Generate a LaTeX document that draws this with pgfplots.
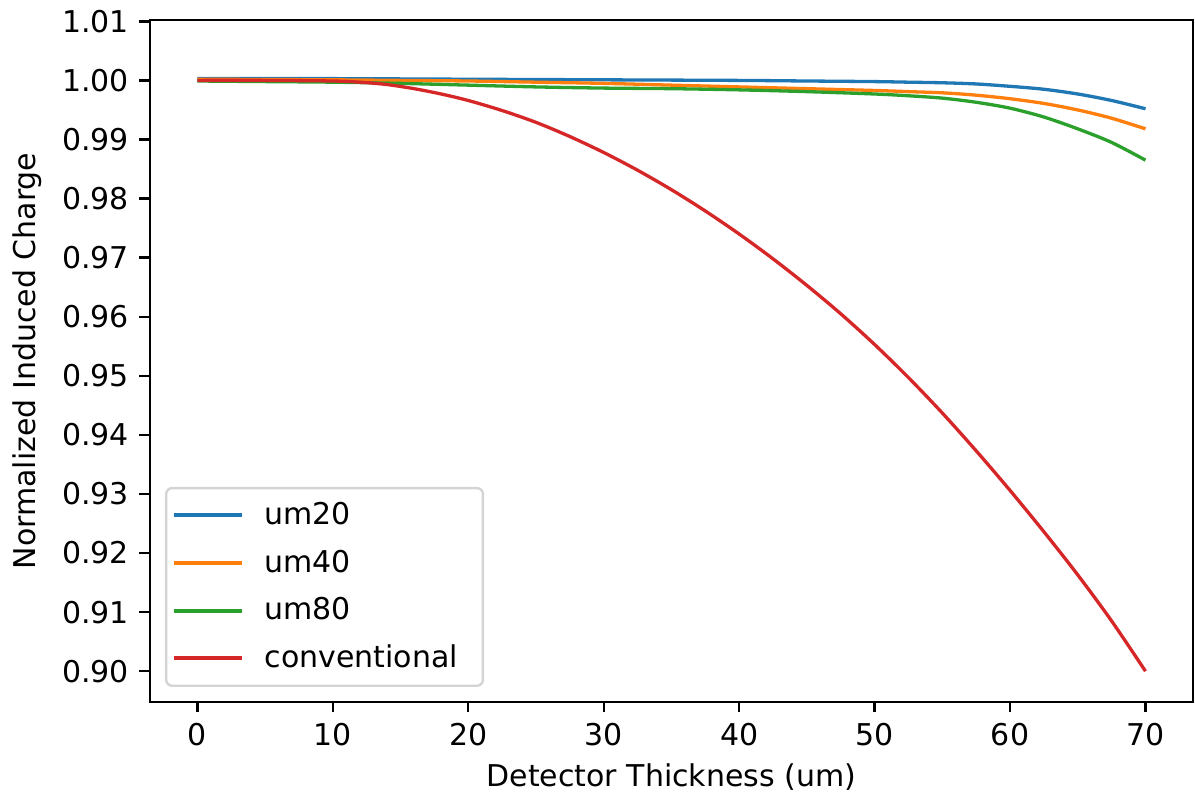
\documentclass[border=0pt]{standalone}
\usepackage{pgfplots}
\pgfplotsset{compat=1.18}
\usepackage{fontspec}
\setmainfont{DejaVu Sans}
\definecolor{tabblue}{HTML}{1F77B4}
\definecolor{taborange}{HTML}{FF7F0E}
\definecolor{tabgreen}{HTML}{2CA02C}
\definecolor{tabred}{HTML}{D62728}
\begin{document}
\begin{tikzpicture}
\begin{axis}[
    width=347.7pt, height=227.3pt,
    scale only axis,
    xmin=-3.5, xmax=73.5,
    ymin=0.8948, ymax=1.0102,
    xtick={0,10,...,70},
    ytick={0.90,0.91,0.92,0.93,0.94,0.95,0.96,0.97,0.98,0.99,1.00,1.01},
    yticklabel style={/pgf/number format/.cd, fixed, fixed zerofill, precision=2},
    /pgf/number format/assume math mode=true,
    tick align=outside,
    major tick length=3.5pt,
    tick style={line width=0.8pt, black},
    axis line style={line width=0.8pt},
    xtick pos=bottom, ytick pos=left,
    ticklabel style={font=\fontsize{10}{12}\selectfont},
    xlabel={Detector Thickness (um)},
    ylabel={Normalized Induced Charge},
    every axis x label/.style={at={(axis description cs:0.5,-0.11)}, anchor=center, font=\fontsize{10}{12}\selectfont},
    every axis y label/.style={at={(axis description cs:-0.118,0.5)}, anchor=center, rotate=90, font=\fontsize{10}{12}\selectfont},
    legend style={at={(0.0144,0.022)}, anchor=south west, draw=black!17, line width=0.8pt,
        rounded corners=2pt, font=\fontsize{10}{12}\selectfont, row sep=3.9pt,
        inner xsep=1.8pt, inner ysep=3.1pt,
        nodes={text height=7.5pt, text depth=1.5pt, inner sep=1.5pt},
        /tikz/every odd column/.append style={column sep=5.5pt},
        /tikz/every even column/.append style={nodes={text width=69.5pt}}},
    legend cell align=left,
    legend image code/.code={\draw[#1, line width=1.3pt] (0pt,0pt) -- (22.7pt,0pt);},
    every axis plot/.append style={line width=1.1pt, smooth},
]
\addplot[tabblue] coordinates {(0,1.0003) (10,1.0003) (20,1.0002) (30,1.0001) (40,1.0000) (45,0.9999) (50,0.9998) (52.5,0.9997) (55,0.9996) (57.5,0.9994) (60,0.9990) (62.5,0.9985) (65,0.9977) (67.5,0.9966) (70,0.9952)};
\addplot[taborange] coordinates {(0,1.0002) (10,1.0001) (15,1.0000) (20,0.9999) (25,0.9997) (30,0.9995) (35,0.9992) (40,0.9989) (45,0.9986) (50,0.9983) (52.5,0.9981) (55,0.9979) (57.5,0.9975) (60,0.9969) (62.5,0.9961) (65,0.9950) (67.5,0.9936) (70,0.9918)};
\addplot[tabgreen] coordinates {(0,0.9999) (5,0.9998) (10,0.9997) (15,0.9995) (20,0.9992) (25,0.9989) (30,0.9987) (35,0.9986) (40,0.9984) (45,0.9981) (50,0.9977) (52.5,0.9974) (55,0.9970) (57.5,0.9963) (60,0.9953) (62.5,0.9938) (65,0.9918) (67.5,0.9895) (70,0.9865)};
\addplot[tabred] coordinates {(0,1.0000) (5,1.0000) (10,0.9999) (12,0.9997) (14,0.9993) (16,0.9986) (18,0.9977) (20,0.9966) (22.5,0.9949) (25,0.9929) (27.5,0.9905) (30,0.9878) (32.5,0.9848) (35,0.9815) (37.5,0.9779) (40,0.9740) (42.5,0.9698) (45,0.9653) (47.5,0.9605) (50,0.9553) (52.5,0.9497) (55,0.9437) (57.5,0.9373) (60,0.9306) (62.5,0.9236) (65,0.9163) (67.5,0.9085) (70,0.9000)};
\legend{um20, um40, um80, conventional}
\end{axis}
\path (current axis.south west) ++(-50pt,-33.3pt);
\path (current axis.north east) ++(0.7pt,6pt);
\end{tikzpicture}
\end{document}
